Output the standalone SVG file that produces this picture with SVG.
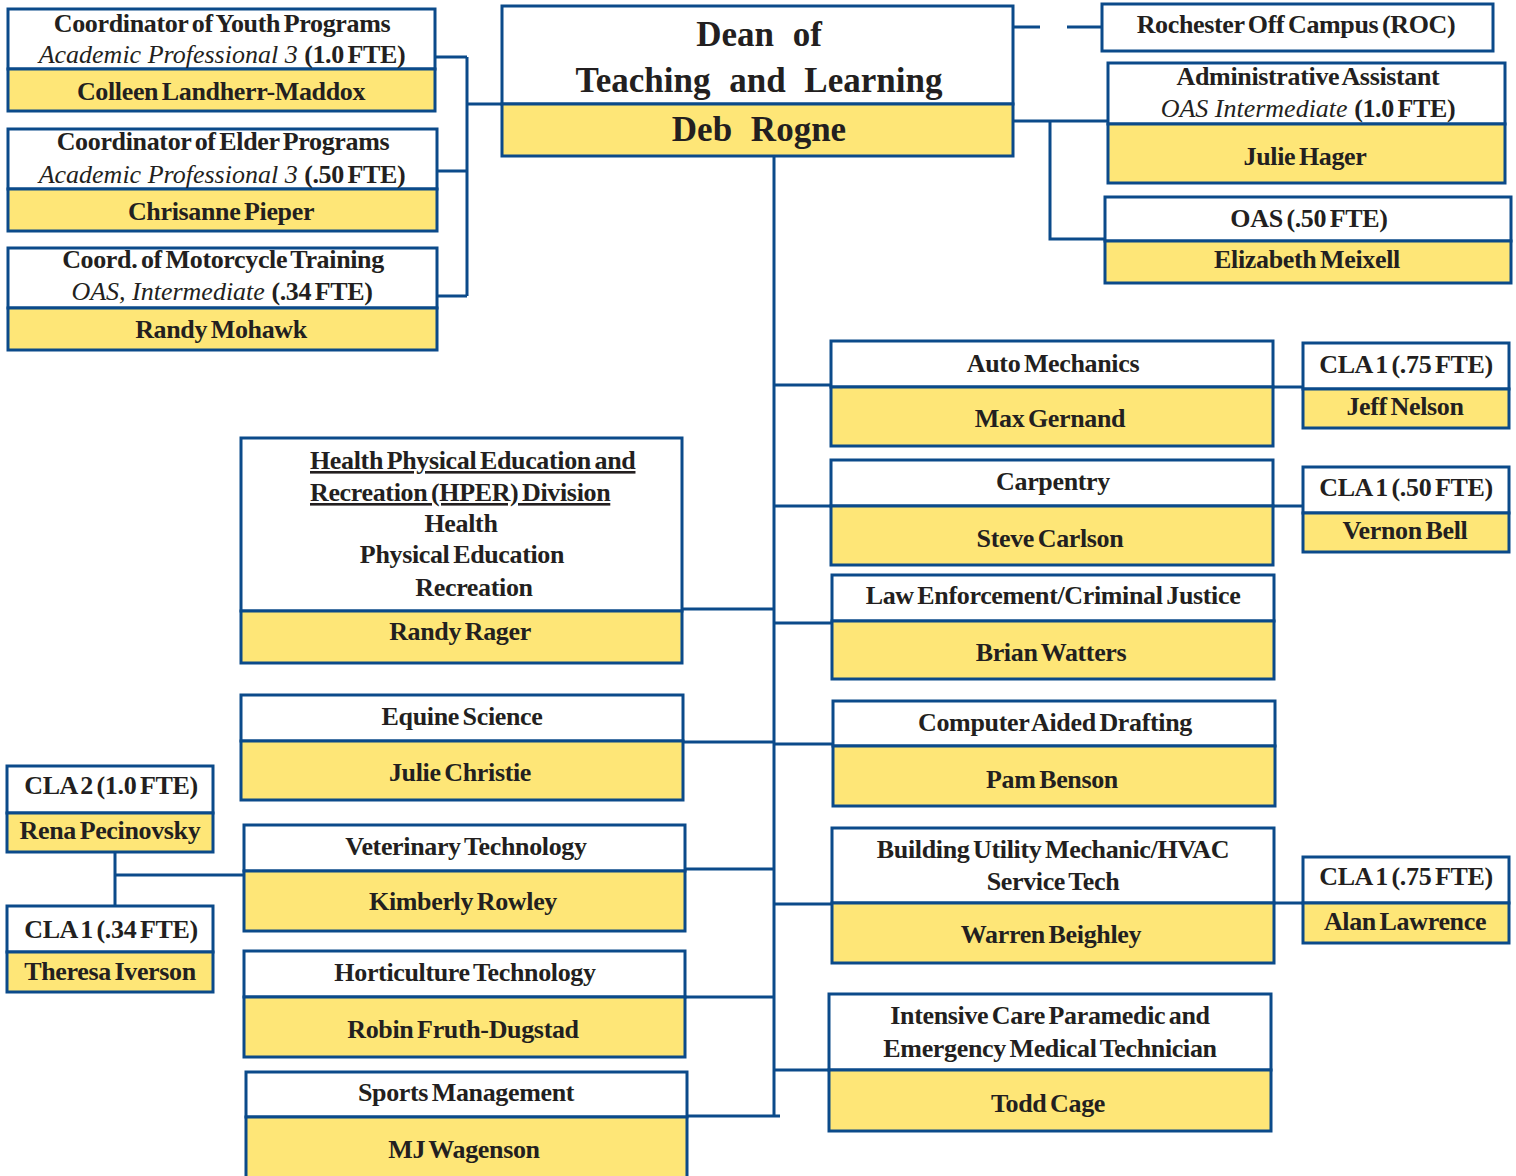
<svg xmlns="http://www.w3.org/2000/svg" width="1516" height="1176" viewBox="0 0 1516 1176">
<style>
.w{fill:#ffffff;stroke:#0b4a8a;stroke-width:3}
.y{fill:#fee677;stroke:#0b4a8a;stroke-width:3}
.t{font-family:"Liberation Serif","Times New Roman",serif;font-weight:bold;font-size:26px;fill:#231f20;text-anchor:middle;letter-spacing:-0.35px;word-spacing:-2.5px}
.i{font-family:"Liberation Serif",serif;font-style:italic;font-weight:normal;letter-spacing:0;word-spacing:0}
.d{font-size:35px;letter-spacing:0;word-spacing:10px}
.u{text-anchor:start;text-decoration:underline}
.c path{stroke:#0b4a8a;stroke-width:3;fill:none}
</style>
<rect width="1516" height="1176" fill="#ffffff"/>
<g class="c" id="connectors">
<path d="M435,57H467M437,171H467M437,296H467M467,57V296M467,104H502"/>
<path d="M774,156V1116"/>
<path d="M774,385H831M774,506H831M774,623H832M774,744H833M774,904H832M774,1070H829"/>
<path d="M682,609H774M683,742H774M685,869H774M685,997H774M687,1116H780"/>
<path d="M1013,121H1108M1050,121V239H1105"/>
<path d="M1013,27H1040M1067,27H1102"/>
<path d="M1273,387H1303M1273,506H1303M1274,903H1303"/>
<path d="M115,852V906M115,875H244"/>
</g>
<g id="youth">
<rect class="w" x="8" y="9" width="427" height="60"/><rect class="y" x="8" y="69" width="427" height="42"/>
<text class="t" x="222" y="32">Coordinator of Youth Programs</text>
<text class="t" x="222" y="63"><tspan class="i">Academic Professional 3 </tspan>(1.0 FTE)</text>
<text class="t" x="221" y="100">Colleen Landherr-Maddox</text>
</g>
<g id="elder">
<rect class="w" x="8" y="129" width="429" height="60"/><rect class="y" x="8" y="189" width="429" height="42"/>
<text class="t" x="223" y="150">Coordinator of Elder Programs</text>
<text class="t" x="222" y="183"><tspan class="i">Academic Professional 3 </tspan>(.50 FTE)</text>
<text class="t" x="221" y="220">Chrisanne Pieper</text>
</g>
<g id="moto">
<rect class="w" x="8" y="248" width="429" height="60"/><rect class="y" x="8" y="308" width="429" height="42"/>
<text class="t" x="223" y="268">Coord. of Motorcycle Training</text>
<text class="t" x="222" y="300"><tspan class="i">OAS, Intermediate </tspan>(.34 FTE)</text>
<text class="t" x="221" y="338">Randy Mohawk</text>
</g>
<g id="dean">
<rect class="w" x="502" y="6" width="511" height="98"/><rect class="y" x="502" y="104" width="511" height="52"/>
<text class="t d" x="759" y="46">Dean of</text>
<text class="t d" x="759" y="92">Teaching and Learning</text>
<text class="t d" x="759" y="141">Deb Rogne</text>
</g>
<g id="roc">
<rect class="w" x="1102" y="4" width="391" height="47"/>
<text class="t" x="1296" y="33">Rochester Off Campus (ROC)</text>
</g>
<g id="admin">
<rect class="w" x="1108" y="63" width="397" height="61"/><rect class="y" x="1108" y="124" width="397" height="59"/>
<text class="t" x="1308" y="85">Administrative Assistant</text>
<text class="t" x="1308" y="117"><tspan class="i">OAS Intermediate </tspan>(1.0 FTE)</text>
<text class="t" x="1305" y="165">Julie Hager</text>
</g>
<g id="oas">
<rect class="w" x="1105" y="197" width="406" height="44"/><rect class="y" x="1105" y="241" width="406" height="42"/>
<text class="t" x="1309" y="227">OAS (.50 FTE)</text>
<text class="t" x="1307" y="268">Elizabeth Meixell</text>
</g>
<g id="auto">
<rect class="w" x="831" y="341" width="442" height="46"/><rect class="y" x="831" y="387" width="442" height="59"/>
<text class="t" x="1053" y="372">Auto Mechanics</text>
<text class="t" x="1050" y="427">Max Gernand</text>
</g>
<g id="cla-auto">
<rect class="w" x="1303" y="343" width="206" height="46"/><rect class="y" x="1303" y="389" width="206" height="39"/>
<text class="t" x="1406" y="373">CLA 1 (.75 FTE)</text>
<text class="t" x="1405" y="415">Jeff Nelson</text>
</g>
<g id="carpentry">
<rect class="w" x="831" y="460" width="442" height="46"/><rect class="y" x="831" y="506" width="442" height="59"/>
<text class="t" x="1053" y="490">Carpentry</text>
<text class="t" x="1050" y="547">Steve Carlson</text>
</g>
<g id="cla-carp">
<rect class="w" x="1303" y="467" width="206" height="46"/><rect class="y" x="1303" y="513" width="206" height="39"/>
<text class="t" x="1406" y="496">CLA 1 (.50 FTE)</text>
<text class="t" x="1405" y="539">Vernon Bell</text>
</g>
<g id="law">
<rect class="w" x="832" y="575" width="442" height="46"/><rect class="y" x="832" y="621" width="442" height="58"/>
<text class="t" x="1053" y="604">Law Enforcement/Criminal Justice</text>
<text class="t" x="1051" y="661">Brian Watters</text>
</g>
<g id="cad">
<rect class="w" x="833" y="701" width="442" height="45"/><rect class="y" x="833" y="746" width="442" height="60"/>
<text class="t" x="1055" y="731">Computer Aided Drafting</text>
<text class="t" x="1052" y="788">Pam Benson</text>
</g>
<g id="bum">
<rect class="w" x="832" y="828" width="442" height="75"/><rect class="y" x="832" y="903" width="442" height="60"/>
<text class="t" x="1053" y="858">Building Utility Mechanic/HVAC</text>
<text class="t" x="1053" y="890">Service Tech</text>
<text class="t" x="1051" y="943">Warren Beighley</text>
</g>
<g id="cla-bum">
<rect class="w" x="1303" y="857" width="206" height="46"/><rect class="y" x="1303" y="903" width="206" height="40"/>
<text class="t" x="1406" y="885">CLA 1 (.75 FTE)</text>
<text class="t" x="1405" y="930">Alan Lawrence</text>
</g>
<g id="icp">
<rect class="w" x="829" y="994" width="442" height="76"/><rect class="y" x="829" y="1070" width="442" height="61"/>
<text class="t" x="1050" y="1024">Intensive Care Paramedic and</text>
<text class="t" x="1050" y="1057">Emergency Medical Technician</text>
<text class="t" x="1048" y="1112">Todd Cage</text>
</g>
<g id="hper">
<rect class="w" x="241" y="438" width="441" height="173"/><rect class="y" x="241" y="611" width="441" height="52"/>
<text class="t u" x="310" y="469">Health Physical Education and</text>
<text class="t u" x="310" y="501">Recreation (HPER) Division</text>
<text class="t" x="461" y="532">Health</text>
<text class="t" x="462" y="563">Physical Education</text>
<text class="t" x="474" y="596">Recreation</text>
<text class="t" x="460" y="640">Randy Rager</text>
</g>
<g id="equine">
<rect class="w" x="241" y="695" width="442" height="46"/><rect class="y" x="241" y="741" width="442" height="59"/>
<text class="t" x="462" y="725">Equine Science</text>
<text class="t" x="460" y="781">Julie Christie</text>
</g>
<g id="cla2">
<rect class="w" x="7" y="766" width="206" height="47"/><rect class="y" x="7" y="813" width="206" height="39"/>
<text class="t" x="111" y="794">CLA 2 (1.0 FTE)</text>
<text class="t" x="110" y="839">Rena Pecinovsky</text>
</g>
<g id="cla1-34">
<rect class="w" x="7" y="906" width="206" height="46"/><rect class="y" x="7" y="952" width="206" height="40"/>
<text class="t" x="111" y="938">CLA 1 (.34 FTE)</text>
<text class="t" x="110" y="980">Theresa Iverson</text>
</g>
<g id="vet">
<rect class="w" x="244" y="825" width="441" height="46"/><rect class="y" x="244" y="871" width="441" height="60"/>
<text class="t" x="466" y="855">Veterinary Technology</text>
<text class="t" x="463" y="910">Kimberly Rowley</text>
</g>
<g id="hort">
<rect class="w" x="244" y="951" width="441" height="46"/><rect class="y" x="244" y="997" width="441" height="60"/>
<text class="t" x="465" y="981">Horticulture Technology</text>
<text class="t" x="463" y="1038">Robin Fruth-Dugstad</text>
</g>
<g id="sports">
<rect class="w" x="246" y="1072" width="441" height="45"/><rect class="y" x="246" y="1117" width="441" height="62"/>
<text class="t" x="466" y="1101">Sports Management</text>
<text class="t" x="464" y="1158">MJ Wagenson</text>
</g>
</svg>
